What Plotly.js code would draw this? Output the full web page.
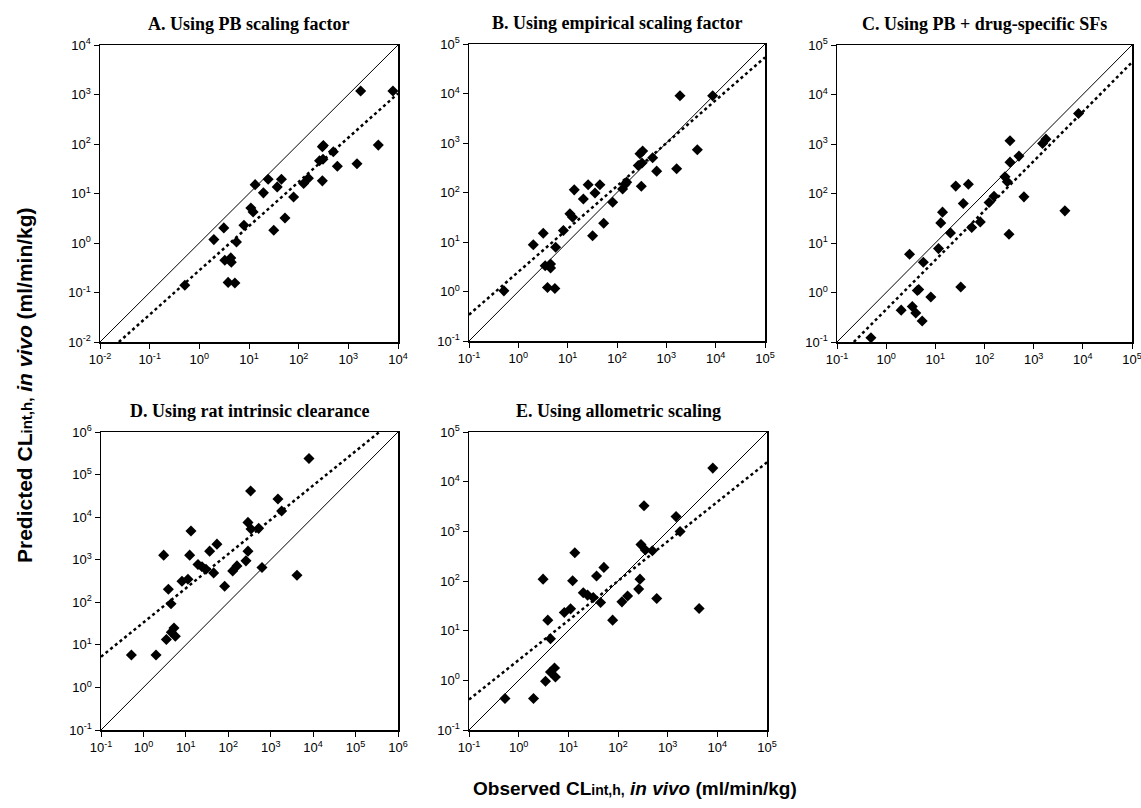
<!DOCTYPE html>
<html>
<head>
<meta charset="utf-8">
<script src="https://cdn.plot.ly/plotly-3.0.1.min.js"></script>
<style>html,body{margin:0;padding:0;background:#fff;}#chart{width:1141px;height:808px;}</style>
</head>
<body>
<div id="chart"></div>
<script>
// ---------- Data (observed vs predicted CLint,h, ml/min/kg) ----------
// Panel A: PB scaling factor
const obsA  = [0.51,1.96,3.11,3.26,4.3,4.4,3.8,5.2,5.6,7.9,10.9,12.1,13.3,19.5,24.3,31.5,37,45,53,79,126,157,263,309,300,314,300,499,601,1493,1770,4010,7900];
const predA = [0.14,1.17,2.02,0.45,0.50,0.41,0.16,0.155,1.05,2.29,5.1,4.25,15.1,10.3,19.4,1.81,13.6,19.4,3.2,8.5,15.9,20.3,45.7,49,87.7,93,18,69.5,35.6,40,1175,95,1175];
// Panel B: empirical scaling factor
const obsB  = [0.51,2.01,3.2,3.5,4.5,4.5,3.9,5.5,5.7,8.2,11.1,12.6,13.6,20.8,26,32,35.8,45,53.7,81.7,130,145,157,270,292,331,321,311,528,637,1618,1890,4250,8690];
const predB = [1.03,8.8,15,3.3,3.6,3.0,1.2,1.15,7.8,17,37,31.6,113,74,143,13.4,98,143,23.9,63.7,118,145,162,352,608,689,394,134,505,270,302,8970,733,8970];
// Panel C: PB + drug-specific SFs
const obsC  = [0.49,2.02,2.99,3.4,4.0,5.4,4.3,4.6,5.7,8.1,11.6,12.9,14,20.3,26,32.9,37,47,55,82,124,156,261,291,315,330,330,502,634,1517,1775,4315,8170];
const predC = [0.122,0.44,5.9,0.52,0.385,0.265,1.1,1.15,4.1,0.81,7.7,25.5,42,16,141,1.29,62.7,154,20.5,26.7,65.6,88,217,172,15,430,1162,569,85.5,1026,1254,44.6,4150];
// Panel D: rat intrinsic clearance
const obsD  = [0.52,1.98,3.0,3.47,3.87,4.47,4.55,5.25,5.65,8.1,11.2,12.3,13.2,19.3,24,29.8,36.4,45.2,54,82,127,160,261,291,291,343,336,520,623,1480,1810,4160,7980];
const predD = [5.8,5.8,1280,13.4,202,92.7,19.9,25,16,312,347,1280,4710,770,680,598,1590,490,2320,238,546,716,940,1590,7530,5250,41300,5450,655,26800,13960,431,239000];
// Panel E: allometric scaling
const obsE  = [0.53,1.99,3.1,3.47,3.86,4.37,4.37,5.27,5.5,8.3,11.1,12.2,13.5,20,24.4,31.7,37,44.6,52,78,120,156,261,277,290,334,355,492,602,1476,1778,4300,8110];
const predE = [0.43,0.43,109,0.955,16.3,6.9,1.47,1.77,1.17,23.2,27.5,101,372,58,52,46.7,126,37,188,16.3,38,49.7,68.7,109,540,3260,421,408,44.6,1980,988,28,18750];

// Line of unity (solid) and regression line (dotted) end points
const unityA_x = [0.01, 1e4],  unityA_y = [0.01, 1e4];
const regA_x   = [0.024, 1e4], regA_y   = [0.01, 1050];
const unityB_x = [0.1, 1e5],   unityB_y = [0.1, 1e5];
const regB_x   = [0.1, 1e5],   regB_y   = [0.34, 53700];
const unityC_x = [0.1, 1e5],   unityC_y = [0.1, 1e5];
const regC_x   = [0.22, 1e5],  regC_y   = [0.1, 44700];
const unityD_x = [0.1, 1e6],   unityD_y = [0.1, 1e6];
const regD_x   = [0.1, 363000],regD_y   = [5.25, 1e6];
const unityE_x = [0.1, 1e5],   unityE_y = [0.1, 1e5];
const regE_x   = [0.1, 1e5],   regE_y   = [0.41, 24500];

// Tick exponents
const expsA = [-2,-1,0,1,2,3,4];
const exps5 = [-1,0,1,2,3,4,5];
const exps6 = [-1,0,1,2,3,4,5,6];

const titles = ['A. Using PB scaling factor','B. Using empirical scaling factor','C. Using PB + drug-specific SFs','D. Using rat intrinsic clearance','E. Using allometric scaling'];

// ---------- Build ----------
const W = 1141, H = 808;
const panels = [
  {obs:obsA, pred:predA, ux:unityA_x, uy:unityA_y, rx:regA_x, ry:regA_y, exps:expsA, x:[100,398], y:[45,342]},
  {obs:obsB, pred:predB, ux:unityB_x, uy:unityB_y, rx:regB_x, ry:regB_y, exps:exps5, x:[469,765], y:[44,341]},
  {obs:obsC, pred:predC, ux:unityC_x, uy:unityC_y, rx:regC_x, ry:regC_y, exps:exps5, x:[837,1132], y:[45,342]},
  {obs:obsD, pred:predD, ux:unityD_x, uy:unityD_y, rx:regD_x, ry:regD_y, exps:exps6, x:[101,398], y:[432,730]},
  {obs:obsE, pred:predE, ux:unityE_x, uy:unityE_y, rx:regE_x, ry:regE_y, exps:exps5, x:[469,767], y:[432,730]}
];

const traces = [];
const layout = {
  width: W, height: H,
  margin: {l:0, r:0, t:0, b:0},
  paper_bgcolor: '#fff', plot_bgcolor: '#fff',
  showlegend: false,
  annotations: []
};
const tickFont = {family: 'Liberation Sans, Arial, sans-serif', size: 13, color: '#000'};

panels.forEach((p, i) => {
  const n = i === 0 ? '' : String(i + 1);
  const xa = 'x' + n, ya = 'y' + n;
  const tv = p.exps.map(e => Math.pow(10, e));
  const tt = p.exps.map(e => '10<sup>' + e + '</sup>');
  const rng = [p.exps[0], p.exps[p.exps.length - 1]];
  const axCommon = {
    type: 'log', range: rng, tickvals: tv, ticktext: tt,
    ticks: 'outside', ticklen: 5, tickwidth: 1, tickcolor: '#000',
    showline: true, mirror: true, linecolor: '#000', linewidth: 1.5,
    showgrid: false, zeroline: false, tickfont: tickFont, fixedrange: true,
    ticklabeloverflow: 'allow'
  };
  layout['xaxis' + n] = Object.assign({}, axCommon, {
    domain: [p.x[0] / W, p.x[1] / W], anchor: ya
  });
  layout['yaxis' + n] = Object.assign({}, axCommon, {
    domain: [1 - p.y[1] / H, 1 - p.y[0] / H], anchor: xa
  });
  traces.push({x: p.ux, y: p.uy, xaxis: xa, yaxis: ya, mode: 'lines', type: 'scatter',
    line: {color: '#000', width: 1}, hoverinfo: 'skip', cliponaxis: true});
  traces.push({x: p.rx, y: p.ry, xaxis: xa, yaxis: ya, mode: 'lines', type: 'scatter',
    line: {color: '#000', width: 2.5, dash: 'dot'}, hoverinfo: 'skip'});
  traces.push({x: p.obs, y: p.pred, xaxis: xa, yaxis: ya, mode: 'markers', type: 'scatter',
    marker: {symbol: 'diamond', size: 8.5, color: '#000'}, cliponaxis: false});
  layout.annotations.push({
    text: '<b>' + titles[i] + '</b>',
    xref: xa + ' domain', yref: ya + ' domain', x: 0.5, y: 1,
    xanchor: 'center', yanchor: 'bottom', yshift: 9, showarrow: false,
    font: {family: 'Liberation Serif, Times New Roman, serif', size: 18, color: '#000'}
  });
});

layout.annotations.push({
  text: '<b>Predicted CL<span style="font-size:15px">int,h,</span> <i>in vivo</i> (ml/min/kg)</b>',
  xref: 'paper', yref: 'paper', x: 24 / W, y: 1 - 385 / H,
  xanchor: 'center', yanchor: 'middle', textangle: -90, showarrow: false,
  font: {family: 'Liberation Sans, Arial, sans-serif', size: 21, color: '#000'}
});
layout.annotations.push({
  text: '<b>Observed CL<span style="font-size:14px">int,h,</span> <i>in vivo</i> (ml/min/kg)</b>',
  xref: 'paper', yref: 'paper', x: 635 / W, y: 1 - 788 / H,
  xanchor: 'center', yanchor: 'middle', showarrow: false,
  font: {family: 'Liberation Sans, Arial, sans-serif', size: 19, color: '#000'}
});

Plotly.newPlot('chart', traces, layout, {displayModeBar: false, staticPlot: true});
</script>
</body>
</html>
